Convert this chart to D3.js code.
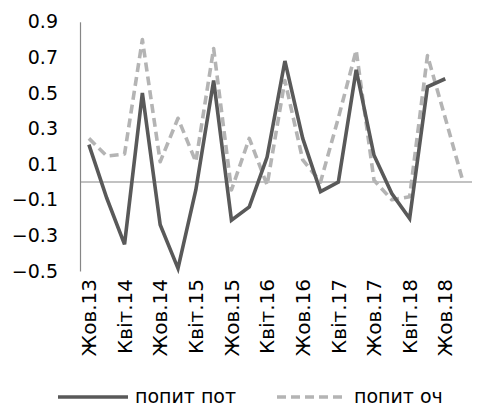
<!DOCTYPE html>
<html>
<head>
<meta charset="utf-8">
<script src="https://cdn.jsdelivr.net/npm/d3@7"></script>
<style>
  body { margin: 0; background: #fff; }
  svg { display: block; font-family: "DejaVu Sans", Verdana, sans-serif; }
</style>
</head>
<body>
<svg width="479" height="406"></svg>
<script>
// quarters, labels shown on every second one
var quarters = ["Жов.13","Січ.14","Квіт.14","Лип.14","Жов.14","Січ.15","Квіт.15","Лип.15",
  "Жов.15","Січ.16","Квіт.16","Лип.16","Жов.16","Січ.17","Квіт.17","Лип.17",
  "Жов.17","Січ.18","Квіт.18","Лип.18","Жов.18","Січ.19"];
var seriesNames = ["попит пот", "попит оч"];
var popytPot = [0.21,-0.09,-0.35,0.50,-0.24,-0.485,-0.045,0.57,-0.215,-0.14,0.14,0.68,
  0.245,-0.054,0.0,0.63,0.15,-0.065,-0.205,0.535,0.58,null];
var popytOch = [0.245,0.146,0.157,0.80,0.114,0.358,0.114,0.75,-0.045,0.245,-0.017,0.57,
  0.124,0.0,0.36,0.74,0.01,-0.10,-0.083,0.71,0.36,0.0];
var yTicks = [-0.5,-0.3,-0.1,0.1,0.3,0.5,0.7,0.9];

var margin = ({top: 21.8, right: 7, bottom: 135, left: 80});
var width = 479, height = 406;

var x = d3.scaleBand()
    .domain(quarters)
    .range([margin.left, width - margin.right]);
var y = d3.scaleLinear()
    .domain([-0.5, 0.9])
    .range([height - margin.bottom, margin.top]);

var svg = d3.select("svg");

// y axis
var yAxis = g => g
    .attr("transform", `translate(${margin.left},0)`)
    .call(d3.axisLeft(y).tickValues(yTicks).tickSize(0).tickPadding(22).tickFormat(d3.format(".1f")))
    .call(g => g.select(".domain").attr("stroke", "#868686").attr("stroke-width", 1.2))
    .call(g => g.selectAll("text")
        .attr("font-size", 19)
        .attr("fill", "#000")
        .attr("font-family", "DejaVu Sans"));

svg.append("g").call(yAxis);

// zero line
svg.append("line")
    .attr("x1", margin.left)
    .attr("x2", width - margin.right)
    .attr("y1", y(0))
    .attr("y2", y(0))
    .attr("stroke", "#868686")
    .attr("stroke-width", 1.2);

// x labels, rotated
var xAxis = g => g
    .attr("transform", `translate(0,${y(-0.5)})`)
    .call(d3.axisBottom(x).tickValues(quarters.filter((d, i) => i % 2 == 0)).tickSize(0).tickPadding(0))
    .call(g => g.select(".domain").remove())
    .call(g => g.selectAll("text")
        .attr("transform", "rotate(-90)")
        .attr("x", -8)
        .attr("y", 0)
        .attr("dy", "0.36em")
        .attr("text-anchor", "end")
        .attr("font-size", 20)
        .attr("fill", "#000")
        .attr("font-family", "DejaVu Sans"));

svg.append("g").call(xAxis);

var line = d3.line()
    .defined(d => d[1] != null)
    .x(d => x(d[0]) + x.bandwidth() / 2)
    .y(d => y(d[1]));

svg.append("path")
    .datum(quarters.map((q, i) => [q, popytOch[i]]))
    .attr("fill", "none")
    .attr("stroke", "#b4b4b4")
    .attr("stroke-width", 3.6)
    .attr("stroke-dasharray", "9,5")
    .attr("stroke-linejoin", "round")
    .attr("d", line);

svg.append("path")
    .datum(quarters.map((q, i) => [q, popytPot[i]]))
    .attr("fill", "none")
    .attr("stroke", "#595959")
    .attr("stroke-width", 3.6)
    .attr("stroke-linejoin", "miter")
    .attr("d", line);

// legend
var legend = svg.append("g").attr("transform", "translate(0,397)");
var items = [
  {name: seriesNames[0], x: 58, color: "#595959", dash: null},
  {name: seriesNames[1], x: 277, color: "#b4b4b4", dash: "9,5"}
];
items.forEach(it => {
  legend.append("line")
      .attr("x1", it.x).attr("x2", it.x + 70)
      .attr("y1", 0).attr("y2", 0)
      .attr("stroke", it.color)
      .attr("stroke-width", 3.6)
      .attr("stroke-dasharray", it.dash);
  legend.append("text")
      .attr("x", it.x + 77)
      .attr("y", 6)
      .attr("font-size", 19)
      .attr("fill", "#000")
      .text(it.name);
});
</script>
</body>
</html>
